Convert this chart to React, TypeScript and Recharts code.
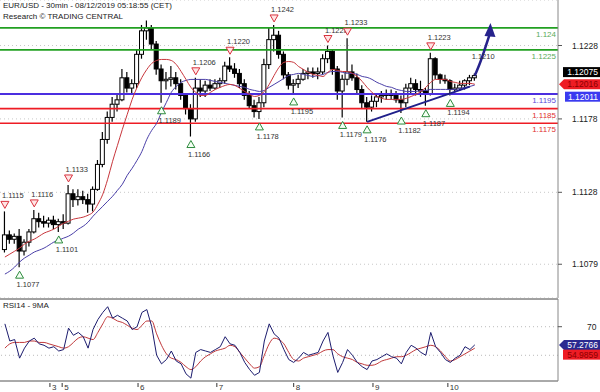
import React from 'react';
import {
  ComposedChart, Bar, Line, XAxis, YAxis, CartesianGrid, ReferenceLine, ReferenceDot,
} from 'recharts';

// 1.5h buckets, index 0 = left edge of the chart
const opens = [
  1.1089, 1.1099, 1.1096, 1.1098, 1.1088, 1.1094, 1.1101, 1.1110, 1.1108, 1.1107,
  1.1109, 1.1106, 1.1108, 1.1107, 1.1127, 1.1123, 1.1125, 1.1123, 1.1120, 1.1130,
  1.1147, 1.1164, 1.1179, 1.1188, 1.1191, 1.1206, 1.1199, 1.1202, 1.1222, 1.1238,
  1.1240, 1.1229, 1.1212, 1.1204, 1.1205, 1.1206, 1.1202, 1.1194, 1.1185, 1.1178,
  1.1199, 1.1197, 1.1201, 1.1199, 1.1202, 1.1204, 1.1214, 1.1212, 1.1209, 1.1202,
  1.1194, 1.1187, 1.1183, 1.1189, 1.1215, 1.1232, 1.1235, 1.1222, 1.1208, 1.1201,
  1.1202, 1.1205, 1.1209, 1.1210, 1.1209, 1.1210, 1.1219, 1.1224, 1.1212, 1.1197,
  1.1205, 1.1210, 1.1206, 1.1198, 1.1189, 1.1186, 1.1190, 1.1193, 1.1194, 1.1195,
  1.1194, 1.1191, 1.1189, 1.1199, 1.1202, 1.1198, 1.1197, 1.1195, 1.1219, 1.1208,
  1.1205, 1.1204, 1.1198, 1.1199, 1.1201, 1.1204, 1.1206,
];
const highs = [
  1.1115, 1.1102, 1.1100, 1.1103, 1.1096, 1.1103, 1.1116, 1.1114, 1.1112, 1.1111,
  1.1112, 1.1110, 1.1113, 1.1133, 1.1130, 1.1130, 1.1129, 1.1127, 1.1132, 1.1150,
  1.1169, 1.1183, 1.1193, 1.1195, 1.1212, 1.1210, 1.1205, 1.1225, 1.1242, 1.1245,
  1.1242, 1.1231, 1.1215, 1.1210, 1.1214, 1.1210, 1.1205, 1.1195, 1.1188, 1.1206,
  1.1205, 1.1204, 1.1205, 1.1205, 1.1206, 1.1217, 1.1220, 1.1216, 1.1212, 1.1205,
  1.1197, 1.1191, 1.1193, 1.1219, 1.1240, 1.1242, 1.1238, 1.1224, 1.1210, 1.1205,
  1.1208, 1.1212, 1.1213, 1.1213, 1.1213, 1.1222, 1.1228, 1.1225, 1.1214, 1.1208,
  1.1233, 1.1215, 1.1209, 1.1201, 1.1193, 1.1194, 1.1195, 1.1197, 1.1198, 1.1198,
  1.1197, 1.1194, 1.1202, 1.1206, 1.1205, 1.1204, 1.1199, 1.1223, 1.1220, 1.1209,
  1.1208, 1.1205, 1.1202, 1.1204, 1.1205, 1.1208, 1.1209,
];
const lows = [
  1.1087, 1.1093, 1.1093, 1.1077, 1.1085, 1.1091, 1.1100, 1.1104, 1.1104, 1.1104,
  1.1103, 1.1101, 1.1103, 1.1106, 1.1118, 1.1119, 1.1120, 1.1114, 1.1115, 1.1129,
  1.1145, 1.1161, 1.1176, 1.1183, 1.1190, 1.1196, 1.1195, 1.1199, 1.1219, 1.1232,
  1.1225, 1.1208, 1.1189, 1.1198, 1.1200, 1.1198, 1.1191, 1.1181, 1.1166, 1.1176,
  1.1193, 1.1193, 1.1197, 1.1198, 1.1199, 1.1202, 1.1210, 1.1206, 1.1199, 1.1191,
  1.1185, 1.1179, 1.1178, 1.1186, 1.1212, 1.1224, 1.1219, 1.1205, 1.1198, 1.1195,
  1.1199, 1.1204, 1.1205, 1.1206, 1.1205, 1.1208, 1.1216, 1.1208, 1.1191, 1.1179,
  1.1201, 1.1204, 1.1195, 1.1185, 1.1176, 1.1183, 1.1186, 1.1189, 1.1191, 1.1191,
  1.1189, 1.1182, 1.1186, 1.1195, 1.1194, 1.1193, 1.1187, 1.1194, 1.1205, 1.1202,
  1.1202, 1.1194, 1.1196, 1.1197, 1.1198, 1.1201, 1.1204,
];
const closes = [
  1.1099, 1.1096, 1.1098, 1.1088, 1.1094, 1.1101, 1.1110, 1.1108, 1.1107, 1.1109,
  1.1106, 1.1108, 1.1107, 1.1127, 1.1123, 1.1125, 1.1123, 1.1120, 1.1130, 1.1147,
  1.1164, 1.1179, 1.1188, 1.1191, 1.1206, 1.1199, 1.1202, 1.1222, 1.1238, 1.1240,
  1.1229, 1.1212, 1.1204, 1.1205, 1.1206, 1.1202, 1.1194, 1.1185, 1.1178, 1.1199,
  1.1197, 1.1201, 1.1199, 1.1202, 1.1204, 1.1214, 1.1212, 1.1209, 1.1202, 1.1194,
  1.1187, 1.1183, 1.1189, 1.1215, 1.1232, 1.1235, 1.1222, 1.1208, 1.1201, 1.1202,
  1.1205, 1.1209, 1.1210, 1.1209, 1.1210, 1.1219, 1.1224, 1.1212, 1.1197, 1.1205,
  1.1210, 1.1206, 1.1198, 1.1189, 1.1186, 1.1190, 1.1193, 1.1194, 1.1195, 1.1194,
  1.1191, 1.1189, 1.1199, 1.1202, 1.1198, 1.1197, 1.1195, 1.1219, 1.1208, 1.1205,
  1.1204, 1.1198, 1.1199, 1.1201, 1.1204, 1.1206, 1.12075,
];
// red (fast) and purple (slow) moving averages
const maFast = [
  1.10839, 1.10859, 1.10879, 1.10900, 1.10927, 1.10947, 1.10961, 1.10981, 1.11002, 1.11015,
  1.11029, 1.11049, 1.11069, 1.11083, 1.11097, 1.11104, 1.11111, 1.11124, 1.11145, 1.11199,
  1.11267, 1.11369, 1.11491, 1.11600, 1.11709, 1.11811, 1.11913, 1.11995, 1.12063, 1.12117,
  1.12158, 1.12178, 1.12185, 1.12185, 1.12178, 1.12151, 1.12103, 1.12049, 1.11995, 1.11961,
  1.11940, 1.11940, 1.11961, 1.11981, 1.11995, 1.12008, 1.12015, 1.12008, 1.11988, 1.11967,
  1.11947, 1.11933, 1.11940, 1.11967, 1.12015, 1.12076, 1.12131, 1.12165, 1.12171, 1.12165,
  1.12137, 1.12117, 1.12097, 1.12083, 1.12076, 1.12069, 1.12097, 1.12117, 1.12110, 1.12103,
  1.12103, 1.12090, 1.12069, 1.12035, 1.11995, 1.11961, 1.11933, 1.11920, 1.11913, 1.11913,
  1.11913, 1.11913, 1.11920, 1.11933, 1.11947, 1.11967, 1.11995, 1.12029, 1.12049, 1.12049,
  1.12049, 1.12035, 1.12029, 1.12022, 1.12022, 1.12022, 1.12016,
];
const maSlow = [
  1.10723, 1.10743, 1.10771, 1.10805, 1.10832, 1.10852, 1.10873, 1.10886, 1.10900, 1.10920,
  1.10941, 1.10954, 1.10968, 1.10981, 1.11002, 1.11029, 1.11049, 1.11077, 1.11117, 1.11151,
  1.11185, 1.11219, 1.11253, 1.11294, 1.11335, 1.11396, 1.11444, 1.11498, 1.11559, 1.11641,
  1.11702, 1.11750, 1.11825, 1.11893, 1.11961, 1.12001, 1.12029, 1.12042, 1.12049, 1.12049,
  1.12049, 1.12049, 1.12042, 1.12035, 1.12029, 1.12022, 1.12015, 1.12008, 1.12001, 1.11995,
  1.11981, 1.11974, 1.11967, 1.11974, 1.11995, 1.12015, 1.12035, 1.12056, 1.12076, 1.12083,
  1.12090, 1.12083, 1.12076, 1.12069, 1.12076, 1.12083, 1.12097, 1.12103, 1.12103, 1.12097,
  1.12090, 1.12090, 1.12083, 1.12069, 1.12063, 1.12049, 1.12029, 1.12015, 1.12001, 1.11995,
  1.11981, 1.11974, 1.11967, 1.11967, 1.11967, 1.11974, 1.11974, 1.11981, 1.11981, 1.11981,
  1.11981, 1.11981, 1.11981, 1.11988, 1.11995, 1.12001, 1.12011,
];
const rsi = [
  72, 60, 61, 48, 55, 60, 62, 58, 57, 55,
  56, 53, 54, 69, 64, 66, 63, 55, 68, 75,
  80, 84, 76, 78, 76, 74, 68, 70, 80, 82,
  70, 50, 44, 47, 53, 46, 44, 37, 34, 52,
  54, 53, 52, 54, 56, 63, 58, 57, 52, 45,
  40, 36, 38, 60, 72, 65, 62, 54, 47, 45,
  48, 52, 50, 51, 52, 60, 66, 50, 38, 45,
  54, 50, 45, 42, 40, 46, 47, 49, 51, 49,
  48, 44, 52, 57, 55, 52, 50, 66, 56, 52,
  47, 45, 48, 50, 56, 54, 57.28,
];
const rsiMa = [
  55, 58, 59, 59, 59, 60, 60, 59, 59, 58,
  57, 56, 55, 56, 59, 62, 63, 62, 61, 66,
  72, 77, 76, 74, 73, 71, 69, 68, 71, 74,
  74, 65, 57, 51, 48, 47, 45, 42, 40, 42,
  46, 49, 51, 53, 54, 55, 57, 56, 52, 48,
  44, 41, 42, 50, 58, 62, 61, 58, 52, 47,
  46, 48, 49, 50, 51, 53, 54, 54, 51, 49,
  48, 47, 45, 44, 43, 43, 44, 46, 47, 48,
  49, 49, 50, 52, 54, 55, 56, 57, 56, 53,
  49, 46, 47, 49, 51, 53, 54.99,
];

const highMarkIdx = [0, 6, 13, 39, 46, 55, 66, 70, 87];
const highMarkVal = [1.1115, 1.1116, 1.1133, 1.1206, 1.1220, 1.1242, 1.1228, 1.1233, 1.1223];
const lowMarkIdx = [3, 11, 32, 38, 52, 59, 69, 74, 81, 86, 91];
const lowMarkVal = [1.1077, 1.1101, 1.1189, 1.1166, 1.1178, 1.1195, 1.1179, 1.1176, 1.1182, 1.1187, 1.1194];

const levels = [1.124, 1.1225, 1.1195, 1.1185, 1.1175];
const trendIdx = [74, 95];
const trendVal = [1.1176, 1.1200];
const projIdx = [96, 97, 98, 99];
const projVal = [1.12075, 1.12156, 1.12251, 1.12352];

const priceTicks = [1.1079, 1.1128, 1.1178, 1.1228];
const dayTicks = [9.2, 11.7, 27.2, 43.3, 59, 75.2, 90.5];
const dayLabels = ['3', '5', '6', '7', '8', '9', '10'];

const rows = Array.from({ length: 100 }, (_, i) => ({
  i,
  open: opens[i],
  high: highs[i],
  low: lows[i],
  close: closes[i],
  maFast: maFast[i],
  maSlow: maSlow[i],
  proj: projIdx.includes(i) ? projVal[projIdx.indexOf(i)] : undefined,
}));
const rsiRows = rsi.map((v, i) => ({ i, rsi: v, rsiMa: rsiMa[i] }));

const levelColors = ['#22a022', '#22a022', '#4b2ee0', '#ee1c24', '#ee1c24'];
const levelTextColors = ['#5aab5a', '#5aab5a', '#5a48d8', '#e03030', '#e03030'];

const Candle = (props: any) => {
  const { x, y, width, height, payload } = props;
  if (!payload || payload.high == null) return <g />;
  const { open, close, high, low } = payload;
  const top = Math.min(y, y + height);
  const h = Math.abs(height);
  const span = high - low || 1e-9;
  const yOf = (v: number) => top + (h * (high - v)) / span;
  const cx = x + width / 2;
  const b0 = yOf(Math.max(open, close));
  const b1 = yOf(Math.min(open, close));
  const up = close >= open;
  return (
    <g>
      <line x1={cx} x2={cx} y1={top} y2={top + h} stroke="#000" strokeWidth={1.2} />
      <rect x={x} y={b0} width={width} height={Math.max(b1 - b0, 1.5)} fill={up ? '#fff' : '#000'} stroke="#000" strokeWidth={1} />
    </g>
  );
};

const HighMark = ({ cx, cy, value }: any) => (
  <g>
    <polygon points={`${cx - 4},${cy - 10} ${cx + 4},${cy - 10} ${cx},${cy - 3}`} fill="#ffe4e4" stroke="#d9333f" strokeWidth={1} />
    <text x={cx - 3} y={cy - 13} fontSize={7.5} fill="#333">{value.toFixed(4)}</text>
  </g>
);

const LowMark = ({ cx, cy, value }: any) => (
  <g>
    <polygon points={`${cx},${cy + 4} ${cx - 4},${cy + 11} ${cx + 4},${cy + 11}`} fill="#f4fff4" stroke="#2e8b3e" strokeWidth={1} />
    <text x={cx - 3} y={cy + 20} fontSize={7.5} fill="#333">{value.toFixed(4)}</text>
  </g>
);

const LevelLabel = ({ viewBox, text, color }: any) =>
  viewBox ? (
    <text x={viewBox.x + viewBox.width - 2} y={viewBox.y + 9} textAnchor="end" fontSize={8} fill={color}>
      {text}
    </text>
  ) : null;

const Badge = ({ viewBox, text, bg, fg, dy = 0, arrow = false, inset = 5 }: any) => {
  if (!viewBox) return null;
  const cy = viewBox.y + dy;
  const left = viewBox.x + viewBox.width;
  return (
    <g>
      {arrow ? (
        <polygon points={`${left + 1},${cy} ${left + 6},${cy - 5} 600,${cy - 5} 600,${cy + 5} ${left + 6},${cy + 5}`} fill={bg} />
      ) : (
        <rect x={left + inset} y={cy - 5} width={600 - left - inset} height={10} fill={bg} />
      )}
      <text x={598} y={cy + 3} textAnchor="end" fontSize={8.5} fill={fg}>{text}</text>
    </g>
  );
};

const ArrowHead = (p: any) => {
  if (p.index !== rows.length - 1 || p.cy == null) return <g key={`ah-${p.index}`} />;
  const { cx, cy } = p;
  return (
    <polygon key={`ah-${p.index}`} points={`${cx + 1},${cy - 12} ${cx - 5},${cy + 1} ${cx + 6},${cy + 2}`} fill="#26228c" />
  );
};

const DayTick = ({ x, y, payload }: any) => {
  const k = dayTicks.indexOf(payload.value);
  return (
    <g>
      <line x1={x} x2={x} y1={y + 2} y2={y + 6} stroke="#333" />
      <text x={x + 2} y={y + 9} fontSize={8} fill="#333">{dayLabels[k]}</text>
    </g>
  );
};

const App = () => {
  return (
    <div style={{ position: 'relative', width: 600, height: 392, background: '#fff', fontFamily: '"Liberation Sans", Arial, sans-serif' }}>
      <style>{'body{margin:0}'}</style>
      <ComposedChart width={600} height={298} data={rows} margin={{ top: 0, right: 0, left: 0, bottom: 0 }}>
        <CartesianGrid vertical={false} stroke="#c8c8c8" strokeDasharray="1 3" />
        <XAxis type="number" dataKey="i" domain={[-1, 113]} hide />
        <YAxis
          orientation="right"
          domain={[1.1056, 1.1259]}
          ticks={priceTicks}
          width={42}
          allowDataOverflow
          axisLine={{ stroke: '#888' }}
          tickLine={{ stroke: '#555' }}
          tickSize={4}
          tickMargin={10}
          tick={{ fontSize: 8.5, fill: '#222' }}
          tickFormatter={(v: number) => v.toFixed(4)}
        />
        {levels.map((v, k) => (
          <ReferenceLine
            key={`lv${k}`}
            y={v}
            stroke={levelColors[k]}
            strokeWidth={k === 2 ? 2 : 1.6}
            label={<LevelLabel text={String(v)} color={levelTextColors[k]} />}
          />
        ))}
        <Line dataKey="maSlow" type="monotone" stroke="#4a3fa8" strokeWidth={1} dot={false} activeDot={false} isAnimationActive={false} />
        <Line dataKey="maFast" type="monotone" stroke="#c8363c" strokeWidth={1} dot={false} activeDot={false} isAnimationActive={false} />
        <Bar
          dataKey={(d: any) => (d.high == null ? null : [d.low, d.high])}
          shape={(p: any) => <Candle {...p} />}
          activeBar={false}
          barSize={4}
          isAnimationActive={false}
        />
        <ReferenceLine
          segment={[{ x: trendIdx[0], y: trendVal[0] }, { x: trendIdx[1], y: trendVal[1] }]}
          stroke="#1f1f8a"
          strokeWidth={2}
        />
        <Line dataKey="proj" type="monotone" stroke="#26228c" strokeWidth={2.5} dot={ArrowHead} activeDot={false} isAnimationActive={false} />
        {highMarkIdx.map((idx, k) => (
          <ReferenceDot key={`h${k}`} x={idx} y={highs[idx]} r={0}
            shape={(p: any) => <HighMark cx={p.cx} cy={p.cy} value={highMarkVal[k]} />} />
        ))}
        {lowMarkIdx.map((idx, k) => (
          <ReferenceDot key={`l${k}`} x={idx} y={lows[idx]} r={0}
            shape={(p: any) => <LowMark cx={p.cx} cy={p.cy} value={lowMarkVal[k]} />} />
        ))}
        <ReferenceDot x={97} y={1.121} r={0}
          shape={(p: any) => <text x={p.cx - 8} y={p.cy - 13} fontSize={7.5} fill="#333">1.1210</text>} />
        <ReferenceLine y={closes[96]} stroke="none" label={<Badge text="1.12075" bg="#000" fg="#fff" dy={-3.5} inset={5} />} />
        <ReferenceLine y={maFast[96]} stroke="none" label={<Badge text="1.12016" bg="#ee1c24" fg="#8b0000" arrow />} />
        <ReferenceLine y={maSlow[96]} stroke="none" label={<Badge text="1.12011" bg="#3a3af0" fg="#fff" dy={11.7} inset={7} />} />
      </ComposedChart>

      <ComposedChart width={600} height={94} data={rsiRows} margin={{ top: 1, right: 0, left: 0, bottom: 0 }}>
        <XAxis
          type="number"
          dataKey="i"
          domain={[-1, 113]}
          ticks={dayTicks}
          interval={0}
          height={11}
          tickSize={0}
          tickMargin={0}
          tickLine={false}
          axisLine={{ stroke: '#555' }}
          tick={<DayTick />}
        />
        <YAxis
          orientation="right"
          domain={[32, 89.4]}
          ticks={[70]}
          width={42}
          allowDataOverflow
          axisLine={{ stroke: '#888' }}
          tickLine={{ stroke: '#555' }}
          tickSize={4}
          tickMargin={25}
          tick={{ fontSize: 8.5, fill: '#222' }}
        />
        <ReferenceLine y={89.4} stroke="#444" />
        <ReferenceLine y={70} stroke="#bbb" strokeDasharray="1 3" />
        <ReferenceLine y={50} stroke="#bbb" strokeDasharray="1 3" />
        <Line dataKey="rsiMa" type="monotone" stroke="#c0393b" strokeWidth={1} dot={false} activeDot={false} isAnimationActive={false} />
        <Line dataKey="rsi" type="linear" stroke="#1c1c6e" strokeWidth={1} dot={false} activeDot={false} isAnimationActive={false} />
        <ReferenceLine y={rsi[rsi.length - 1]} stroke="none" label={<Badge text="57.2766" bg="#2a2a90" fg="#fff" arrow />} />
        <ReferenceLine y={rsiMa[rsiMa.length - 1]} stroke="none" label={<Badge text="54.9859" bg="#ee1c24" fg="#8b0000" dy={6.5} />} />
      </ComposedChart>

      <div style={{ position: 'absolute', left: 3, top: 0, fontSize: 8, lineHeight: '11px', color: '#222' }}>
        <div>EUR/USD - 30min - 08/12/2019 05:18:55 (CET)</div>
        <div>Research © TRADING CENTRAL</div>
      </div>
      <div style={{ position: 'absolute', left: 3, top: 301, fontSize: 8, color: '#222' }}>RSI14 - 9MA</div>
    </div>
  );
};

export default App;
